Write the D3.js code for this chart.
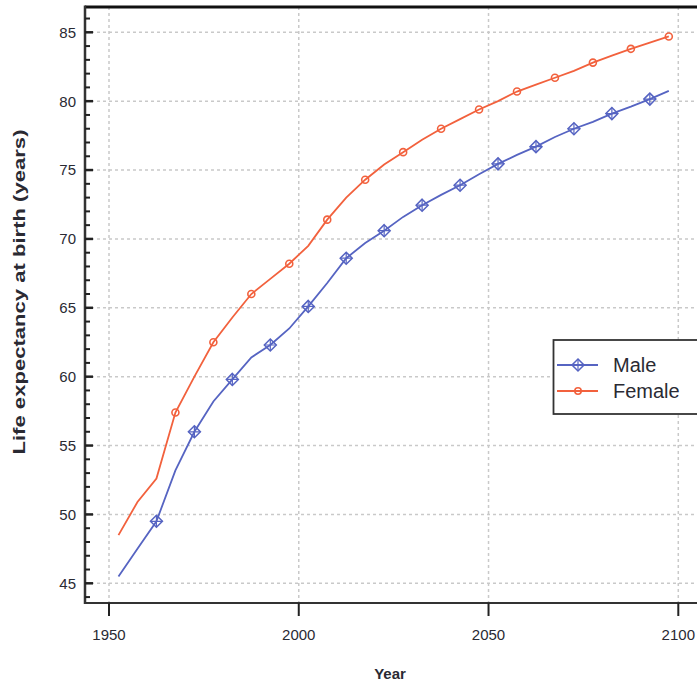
<!DOCTYPE html>
<html>
<head>
<meta charset="utf-8">
<script src="https://cdn.jsdelivr.net/npm/d3@7"></script>
<style>
  html, body { margin: 0; padding: 0; background: #fff; }
  svg { display: block; }
  text { font-family: "Liberation Sans", Arial, sans-serif; fill: #2a2a33; }
</style>
</head>
<body>
<svg id="chart" width="697" height="681"></svg>
<script>
// ---- data ----
const years = [1952.5,1957.5,1962.5,1967.5,1972.5,1977.5,1982.5,1987.5,1992.5,1997.5,
               2002.5,2007.5,2012.5,2017.5,2022.5,2027.5,2032.5,2037.5,2042.5,2047.5,
               2052.5,2057.5,2062.5,2067.5,2072.5,2077.5,2082.5,2087.5,2092.5,2097.5];
const male   = [45.5,47.5,49.5,53.2,56.0,58.2,59.8,61.4,62.3,63.5,
                65.1,66.8,68.6,69.7,70.6,71.6,72.45,73.2,73.9,74.7,
                75.45,76.1,76.7,77.4,78.0,78.5,79.1,79.6,80.15,80.75];
const female = [48.5,50.9,52.6,57.4,60.0,62.5,64.3,66.0,67.1,68.2,
                69.5,71.4,73.0,74.3,75.4,76.3,77.2,78.0,78.7,79.4,
                80.0,80.7,81.2,81.7,82.2,82.8,83.3,83.8,84.25,84.7];
const xTicks = [1950, 2000, 2050, 2100];
const yTicks = [45, 50, 55, 60, 65, 70, 75, 80, 85];
const yMinorTicks = d3.range(44, 87, 1);
const seriesNames = ["Male", "Female"];

// ---- layout ----
const W = 697, H = 681;
const frame = {left: 85, top: 7, bottom: 603, right: 697};
const colMale = "#5664c2", colFemale = "#f2613d";

const svg = d3.select("#chart");
const x = d3.scaleLinear().domain([1950, 2100]).range([109, 678.3]);
const y = d3.scaleLinear().domain([45, 85]).range([583.3, 32.3]);

// grid
const grid = svg.append("g").attr("stroke", "#c9c9c9").attr("stroke-width", 1.5)
  .attr("stroke-dasharray", "3,3");
grid.selectAll("line.v").data(xTicks).join("line")
  .attr("x1", d => x(d)).attr("x2", d => x(d))
  .attr("y1", frame.top).attr("y2", frame.bottom);
grid.selectAll("line.h").data(yTicks).join("line")
  .attr("x1", frame.left).attr("x2", frame.right)
  .attr("y1", d => y(d)).attr("y2", d => y(d));

// frame
svg.append("line").attr("x1", frame.left).attr("x2", W).attr("y1", frame.top).attr("y2", frame.top)
  .attr("stroke", "#111").attr("stroke-width", 3);
svg.append("line").attr("x1", frame.left).attr("x2", W).attr("y1", frame.bottom).attr("y2", frame.bottom)
  .attr("stroke", "#333").attr("stroke-width", 2);
svg.append("line").attr("x1", frame.left).attr("x2", frame.left).attr("y1", frame.top - 1.5).attr("y2", frame.bottom + 1)
  .attr("stroke", "#333").attr("stroke-width", 2.5);

// y ticks (inward)
svg.append("g").selectAll("line").data(yMinorTicks).join("line")
  .attr("x1", frame.left).attr("x2", d => frame.left + (d % 5 === 0 ? 8 : 5))
  .attr("y1", d => y(d)).attr("y2", d => y(d))
  .attr("stroke", "#222").attr("stroke-width", d => d % 5 === 0 ? 2.5 : 2);

svg.append("g").selectAll("text").data(yTicks).join("text")
  .attr("x", 76).attr("y", d => y(d)).attr("dy", "0.36em")
  .attr("text-anchor", "end").attr("font-size", 15).text(d => d);

// x ticks
svg.append("g").selectAll("line").data(xTicks).join("line")
  .attr("x1", d => x(d)).attr("x2", d => x(d))
  .attr("y1", frame.bottom).attr("y2", frame.bottom + 13)
  .attr("stroke", "#222").attr("stroke-width", 2);
svg.append("g").selectAll("text").data(xTicks).join("text")
  .attr("x", d => x(d)).attr("y", 640)
  .attr("text-anchor", "middle").attr("font-size", 15).text(d => d);

// axis titles
svg.append("text").attr("x", 390).attr("y", 679).attr("text-anchor", "middle")
  .attr("font-size", 15).attr("font-weight", "bold").text("Year");
svg.append("text").attr("transform", "translate(25,292) rotate(-90)")
  .attr("text-anchor", "middle").attr("font-size", 17).attr("font-weight", "bold")
  .attr("textLength", 325).attr("lengthAdjust", "spacingAndGlyphs")
  .text("Life expectancy at birth (years)");

// lines
const line = d3.line().x(d => x(d[0])).y(d => y(d[1]));
const maleData = years.map((yr, i) => [yr, male[i]]);
const femaleData = years.map((yr, i) => [yr, female[i]]);

svg.append("path").datum(maleData).attr("d", line)
  .attr("fill", "none").attr("stroke", colMale).attr("stroke-width", 1.8);
svg.append("path").datum(femaleData).attr("d", line)
  .attr("fill", "none").attr("stroke", colFemale).attr("stroke-width", 1.8);

function diamond(g, cx, cy, s) {
  g.append("path").attr("d", `M${cx},${cy - s}L${cx + s},${cy}L${cx},${cy + s}L${cx - s},${cy}Z`)
    .attr("fill", "none").attr("stroke", colMale).attr("stroke-width", 1.5);
  g.append("path").attr("d", `M${cx},${cy - s}L${cx},${cy + s}M${cx - s},${cy}L${cx + s},${cy}`)
    .attr("fill", "none").attr("stroke", colMale).attr("stroke-width", 1.2);
}

const mg = svg.append("g");
maleData.filter((d, i) => i >= 2 && i % 2 === 0).forEach(d => diamond(mg, x(d[0]), y(d[1]), 6));
svg.append("g").selectAll("circle")
  .data(femaleData.filter((d, i) => i % 2 === 1 && i >= 3)).join("circle")
  .attr("cx", d => x(d[0])).attr("cy", d => y(d[1])).attr("r", 3.5)
  .attr("fill", "none").attr("stroke", colFemale).attr("stroke-width", 1.6);

// legend
const lg = svg.append("g");
lg.append("rect").attr("x", 553.5).attr("y", 340).attr("width", 160).attr("height", 74)
  .attr("fill", "#fff").attr("stroke", "#333").attr("stroke-width", 1.8);
const legendRows = [{name: seriesNames[0], color: colMale, yy: 365},
                    {name: seriesNames[1], color: colFemale, yy: 391}];
legendRows.forEach((r, i) => {
  lg.append("line").attr("x1", 557).attr("x2", 598).attr("y1", r.yy).attr("y2", r.yy)
    .attr("stroke", r.color).attr("stroke-width", 1.8);
  if (i === 0) diamond(lg, 578, r.yy, 6);
  else lg.append("circle").attr("cx", 578).attr("cy", r.yy).attr("r", 3.2)
        .attr("fill", "none").attr("stroke", r.color).attr("stroke-width", 1.6);
  lg.append("text").attr("x", 613).attr("y", r.yy).attr("dy", "0.36em")
    .attr("font-size", 20).text(r.name);
});
</script>
</body>
</html>
